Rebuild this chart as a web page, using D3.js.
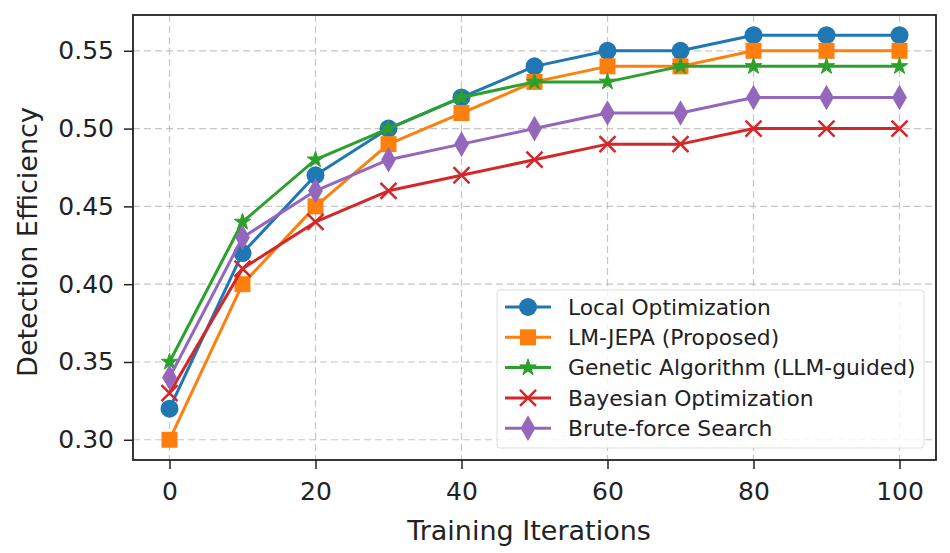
<!DOCTYPE html>
<html>
<head>
<meta charset="utf-8">
<script src="https://cdn.jsdelivr.net/npm/d3@7"></script>
<style>
  body { margin: 0; background: #fff; }
  text { font-family: "DejaVu Sans", sans-serif; fill: #222; }
</style>
</head>
<body>
<div id="chart"></div>
<script>
var iterations = [0, 10, 20, 30, 40, 50, 60, 70, 80, 90, 100];
var localOpt = [0.32, 0.42, 0.47, 0.50, 0.52, 0.54, 0.55, 0.55, 0.56, 0.56, 0.56];
var lmJepa = [0.30, 0.40, 0.45, 0.49, 0.51, 0.53, 0.54, 0.54, 0.55, 0.55, 0.55];
var genetic = [0.35, 0.44, 0.48, 0.50, 0.52, 0.53, 0.53, 0.54, 0.54, 0.54, 0.54];
var bayesian = [0.33, 0.41, 0.44, 0.46, 0.47, 0.48, 0.49, 0.49, 0.50, 0.50, 0.50];
var bruteForce = [0.34, 0.43, 0.46, 0.48, 0.49, 0.50, 0.51, 0.51, 0.52, 0.52, 0.52];
var seriesNames = ['Local Optimization', 'LM-JEPA (Proposed)', 'Genetic Algorithm (LLM-guided)', 'Bayesian Optimization', 'Brute-force Search'];
var xTicks = [0, 20, 40, 60, 80, 100];
var yTicks = [0.30, 0.35, 0.40, 0.45, 0.50, 0.55];

const W = 950, H = 553;
const plotLeft = 133, plotRight = 936, plotTop = 15, plotBottom = 460;

var series = [
  { name: seriesNames[0], values: localOpt, color: '#1f77b4', marker: 'circle' },
  { name: seriesNames[1], values: lmJepa, color: '#ff7f0e', marker: 'square' },
  { name: seriesNames[2], values: genetic, color: '#2ca02c', marker: 'star' },
  { name: seriesNames[3], values: bayesian, color: '#d62728', marker: 'x' },
  { name: seriesNames[4], values: bruteForce, color: '#9467bd', marker: 'diamond' },
];

var svg = d3.select('#chart').append('svg').attr('width', W).attr('height', H);

// matplotlib-ish 5% margins
var x = d3.scaleLinear().domain([-5, 105]).range([plotLeft, plotRight]);
var y = d3.scaleLinear().domain([0.287, 0.573]).range([plotBottom, plotTop]);

// grid
var grid = svg.append('g');
grid.selectAll('line.gx').data(xTicks).enter().append('line')
  .attr('x1', (d) => x(d)).attr('x2', (d) => x(d))
  .attr('y1', plotTop).attr('y2', plotBottom)
  .attr('stroke', '#b0b0b0').attr('stroke-width', 1.2).attr('stroke-dasharray', '7,4').attr('opacity', 0.7);
grid.selectAll('line.gy').data(yTicks).enter().append('line')
  .attr('y1', (d) => y(d)).attr('y2', (d) => y(d))
  .attr('x1', plotLeft).attr('x2', plotRight)
  .attr('stroke', '#b0b0b0').attr('stroke-width', 1.2).attr('stroke-dasharray', '7,4').attr('opacity', 0.7);

// axes
var xAxis = svg.append('g').attr('transform', `translate(0,${plotBottom})`)
  .call(d3.axisBottom(x).tickValues(xTicks).tickSize(9).tickPadding(13).tickFormat(d3.format('d')));
var yAxis = svg.append('g').attr('transform', `translate(${plotLeft},0)`)
  .call(d3.axisLeft(y).tickValues(yTicks).tickSize(9).tickPadding(10).tickFormat(d3.format('.2f')));
[xAxis, yAxis].forEach((a) => {
  a.select('.domain').remove();
  a.selectAll('.tick line').attr('stroke', '#222').attr('stroke-width', 1.5);
  a.selectAll('.tick text').attr('font-size', 25).attr('font-family', '"DejaVu Sans", sans-serif').attr('fill', '#222');
});

// lines + markers
var line = d3.line().x((d, i) => x(iterations[i])).y((d) => y(d));
var symbols = {
  circle: d3.symbol().type(d3.symbolCircle).size(254),
  square: d3.symbol().type(d3.symbolSquare).size(256),
  star: d3.symbol().type(d3.symbolStar).size(85),
  x: d3.symbol().type(d3.symbolX).size(170),
  diamond: d3.symbol().type(d3.symbolDiamond).size(190),
};

function drawMarker(g, s, cx, cy) {
  var p = g.append('path').attr('d', symbols[s.marker]()).attr('transform', `translate(${cx},${cy})`);
  if (s.marker === 'x') {
    p.attr('fill', 'none').attr('stroke', s.color).attr('stroke-width', 2.5);
  } else if (s.marker === 'star') {
    p.attr('fill', s.color).attr('stroke', s.color).attr('stroke-width', 1).attr('stroke-linejoin', 'round');
  } else {
    p.attr('fill', s.color);
  }
}

series.forEach((s) => {
  var g = svg.append('g');
  g.append('path').datum(s.values).attr('d', line)
    .attr('fill', 'none').attr('stroke', s.color).attr('stroke-width', 3).attr('stroke-linejoin', 'round');
  s.values.forEach((v, i) => drawMarker(g, s, x(iterations[i]), y(v)));
});

// frame
svg.append('rect').attr('x', plotLeft).attr('y', plotTop).attr('width', plotRight - plotLeft).attr('height', plotBottom - plotTop)
  .attr('fill', 'none').attr('stroke', '#222').attr('stroke-width', 1.8);

// labels
svg.append('text').attr('x', 529).attr('y', 540).attr('text-anchor', 'middle')
  .attr('font-size', 27).text('Training Iterations');
svg.append('text').attr('transform', `translate(37,242) rotate(-90)`).attr('text-anchor', 'middle')
  .attr('font-size', 27).text('Detection Efficiency');

// legend
var lg = svg.append('g');
lg.append('rect').attr('x', 497).attr('y', 290).attr('width', 427).attr('height', 158).attr('rx', 3)
  .attr('fill', 'rgba(255,255,255,0.8)').attr('stroke', '#ddd').attr('stroke-width', 1);
series.forEach((s, i) => {
  var cy = 307 + i * 30.3;
  lg.append('line').attr('x1', 505).attr('x2', 551).attr('y1', cy).attr('y2', cy)
    .attr('stroke', s.color).attr('stroke-width', 3);
  drawMarker(lg, s, 528, cy);
  lg.append('text').attr('x', 568).attr('y', cy).attr('dy', '0.35em').attr('font-size', 21.8).text(s.name);
});
</script>
</body>
</html>
